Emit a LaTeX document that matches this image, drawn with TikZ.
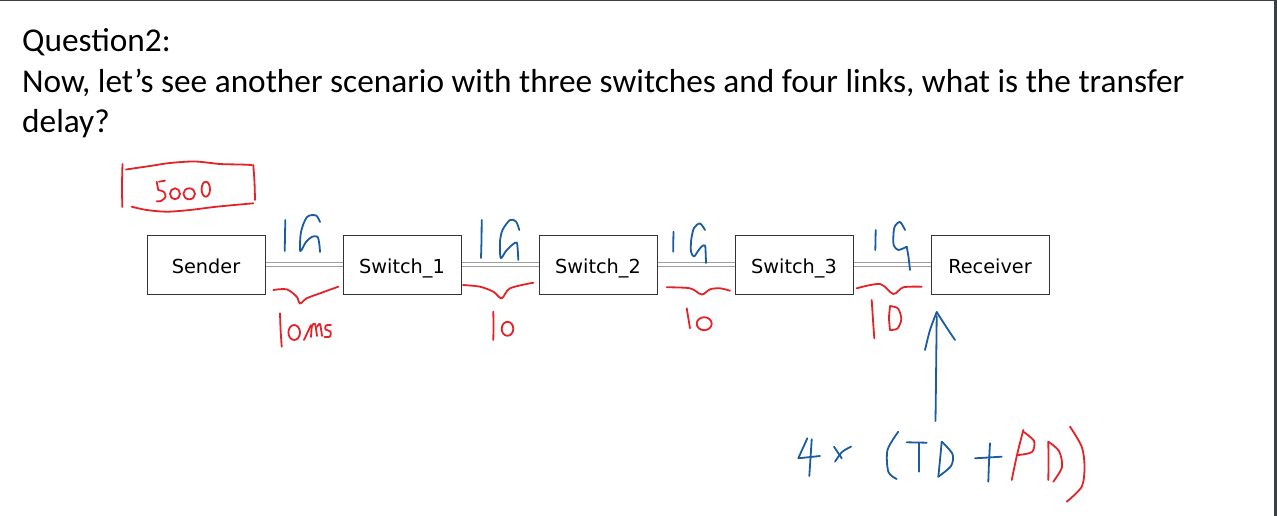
\documentclass[tikz,border=0pt]{standalone}
\usepackage{fontspec}
\setmainfont{Carlito}
\newfontfamily\boxfont{DejaVu Sans}
\definecolor{inkred}{HTML}{E42328}
\definecolor{inkblue}{HTML}{1B5C9E}
\definecolor{framegray}{HTML}{3C4043}
\tikzset{
  titletext/.style={anchor=base west, inner sep=0pt, font=\fontsize{33.3}{40}\selectfont},
  netbox/.style={draw=black!80, line width=1pt, minimum width=118pt, minimum height=59pt, inner sep=0pt, text height=19pt, text depth=2pt, font=\boxfont\fontsize{19.3}{23}\selectfont},
  netlink/.style={draw=gray!75, line width=1pt, double=white, double distance=2.2pt},
  redink/.style={draw=inkred, line width=1.8pt, line cap=round, line join=round},
  blueink/.style={draw=inkblue, line width=1.8pt, line cap=round, line join=round},
}
\begin{document}
\begin{tikzpicture}[x=1pt,y=-1pt]
\useasboundingbox (0,0) rectangle (1277,516);
\fill[white] (0,0) rectangle (1277,516);
\fill[framegray] (0,0) rectangle (1277,1.5);
\fill[framegray] (1274,0) rectangle (1277,516);

% title
\node[titletext] (t1) at (22,52) {Question2:};
\node[titletext] (t2) at (22,92.5) {Now, let’s see another scenario with three switches and four links, what is the transfer};
\node[titletext] (t3) at (22,132) {delay?};

% boxes
\node[netbox] (sender) at (206,264.5) {Sender};
\node[netbox] (sw1) at (402,264.5) {Switch\_1};
\node[netbox] (sw2) at (598,264.5) {Switch\_2};
\node[netbox] (sw3) at (794,264.5) {Switch\_3};
\node[netbox] (recv) at (990,264.5) {Receiver};

% links
\draw[netlink] (sender) -- (sw1);
\draw[netlink] (sw1) -- (sw2);
\draw[netlink] (sw2) -- (sw3);
\draw[netlink] (sw3) -- (recv);

% red box around 5000
\draw[redink] plot[smooth] coordinates {(122.5,164) (122,185) (122.3,207)};
\draw[redink] plot[smooth] coordinates {(126,169.5) (150,166) (170,163) (195,161.5) (220,164) (240,164.5) (252,165)};
\draw[redink] plot[smooth] coordinates {(253.3,165) (254.5,182) (255,200)};
\draw[redink] plot[smooth] coordinates {(131.7,206.7) (146.7,210) (166.7,211.7) (190,210) (216.7,206.7) (253.3,203.3)};
% 5000
\draw[redink] (159,181.7) -- (165,180.7);
\draw[redink] plot[smooth] coordinates {(156.7,181.7) (157.5,186) (158.3,190)};
\draw[redink] plot[smooth] coordinates {(158.3,190) (164,192) (165.5,197) (161,201) (156.7,201.3)};
\draw[redink] (175,193.8) ellipse [x radius=5pt, y radius=5.5pt];
\draw[redink] (189.2,193.8) ellipse [x radius=5.8pt, y radius=5.5pt];
\draw[redink] (205.8,189.2) ellipse [x radius=4.2pt, y radius=7.5pt];

% 1G labels
\draw[blueink] plot[smooth] coordinates {(285.3,220) (285,236) (284.7,251)};
\draw[blueink] plot[smooth] coordinates {(320,222) (316,215.5) (307,217) (301,232) (300.3,251) (306,242) (312,236.8) (317.5,236.8) (319.3,244) (320,252)};

\draw[blueink] plot[smooth] coordinates {(481.7,220) (481.5,240) (481,258)};
\draw[blueink] plot[smooth] coordinates {(519.3,230) (516,221.5) (510,220) (502.5,230) (500,242) (500.7,258) (506,251) (512,245) (516.7,242.5) (517.8,251) (518.3,260)};

\draw[blueink] plot[smooth] coordinates {(673.5,231.7) (673.3,242) (673.3,251.7)};
\draw[blueink] plot[smooth] coordinates {(705,230) (700,223.5) (694,228) (691.2,240) (691,251.7) (694,256.5) (698,251) (701.7,246.5) (705,245.5) (705.7,254) (706,263)};

\draw[blueink] plot[smooth] coordinates {(875.7,230) (875.5,240) (875.3,250)};
\draw[blueink] plot[smooth] coordinates {(905,230) (900,222) (894.5,227) (893.3,238) (893.8,245.5) (898.3,250) (906.7,246.7)};
\draw[blueink] plot[smooth] coordinates {(906.7,246.7) (908.5,257) (910,270)};

% braces
\draw[redink] plot[smooth] coordinates {(273.3,290) (286.7,289.3) (296.7,296.7) (300,303.5) (306.7,298.3) (320,293.3) (338.3,286.7)};
\draw[redink] plot[smooth] coordinates {(463,285) (480,286.7) (493.3,291.7) (501.7,298.3) (510,288.3) (533.3,282.7)};
\draw[redink] plot[smooth] coordinates {(666.7,287.3) (690,288.3) (701.7,294.5) (710,289.3) (720,288.3) (730,290.7)};
\draw[redink] plot[smooth] coordinates {(856.7,288.3) (880,284) (893.3,294) (903.3,287.3) (921.7,286.7)};

% 10/ms and 10 labels
\draw[redink] plot[smooth] coordinates {(280,313.3) (280.6,330) (281.7,346.7)};
\draw[redink] (294.2,332.5) ellipse [x radius=5.8pt, y radius=7.5pt];
\draw[redink] (304,340) -- (311,325);
\draw[redink] plot[smooth] coordinates {(311,337) (312,326) (315,324) (317,336)};
\draw[redink] plot[smooth] coordinates {(317,327) (320,324) (322,336)};
\draw[redink] plot[smooth] coordinates {(331,325) (326,325.5) (325.5,329.5) (330.5,331.5) (330,336.5) (324.5,337)};

\draw[redink] plot[smooth] coordinates {(493.3,311.7) (493.5,326) (493.3,340)};
\draw[redink] (507.5,328.8) ellipse [x radius=5.8pt, y radius=7pt];

\draw[redink] plot[smooth] coordinates {(686.7,308.3) (688.3,318) (690,328.3)};
\draw[redink] (704.2,323.7) ellipse [x radius=7.5pt, y radius=6.5pt];

\draw[redink] plot[smooth] coordinates {(871.7,300) (873,320) (874.3,338.3)};
\draw[redink] plot[smooth] coordinates {(890,306.5) (889,318) (890,330)};
\draw[redink] plot[smooth] coordinates {(890,306) (898,308.5) (901.3,319) (897.5,328.5) (890,330)};

% arrow to receiver
\coordinate (tip) at (936.7,312);
\draw[blueink] plot[smooth] coordinates {(935.5,421) (936,380) (936.7,316)};
\draw[blueink] plot[smooth] coordinates {(925,350) (930,330) (936.7,312)};
\draw[blueink] plot[smooth] coordinates {(936.7,312) (945,325) (955,340)};

% 4x (TD + PD)
\draw[blueink] (807.3,438.3) -- (798.3,458.3) -- (820,456);
\draw[blueink] plot[smooth] coordinates {(811.7,439.3) (810.5,458) (809.3,476)};
\draw[blueink] (834,446.7) -- (841.7,458.3);
\draw[blueink] plot[smooth] coordinates {(851,446.7) (842,452) (835,461.7)};
\draw[blueink] plot[smooth] coordinates {(898.3,431.7) (887.5,450) (888.3,471.7) (896.7,479)};
\draw[blueink] (906.7,442.3) -- (926.7,442.7);
\draw[blueink] (919,443.3) -- (919,471.7);
\draw[blueink] plot[smooth] coordinates {(941.7,441.7) (940,460) (938.3,476.7)};
\draw[blueink] plot[smooth] coordinates {(941.7,441.7) (952.5,454) (951,466) (938.3,476.7)};
\draw[blueink] (975,458.3) -- (1001.7,456.7);
\draw[blueink] plot[smooth] coordinates {(990,443.3) (989,462) (988.3,481.7)};
\draw[redink] plot[smooth] coordinates {(1023.3,430) (1017,455) (1011.7,480)};
\draw[redink] plot[smooth] coordinates {(1023.3,431.7) (1034,441) (1032,452) (1018.3,455)};
\draw[redink] plot[smooth] coordinates {(1048.3,441.7) (1048.5,461) (1048.3,480)};
\draw[redink] plot[smooth] coordinates {(1048.3,441.7) (1059,451) (1062,467) (1053.3,481.7)};
\draw[redink] plot[smooth] coordinates {(1070,426.7) (1081.7,446.7) (1084.5,466.7) (1081.7,486.7) (1066.7,501.7)};
\end{tikzpicture}
\end{document}
